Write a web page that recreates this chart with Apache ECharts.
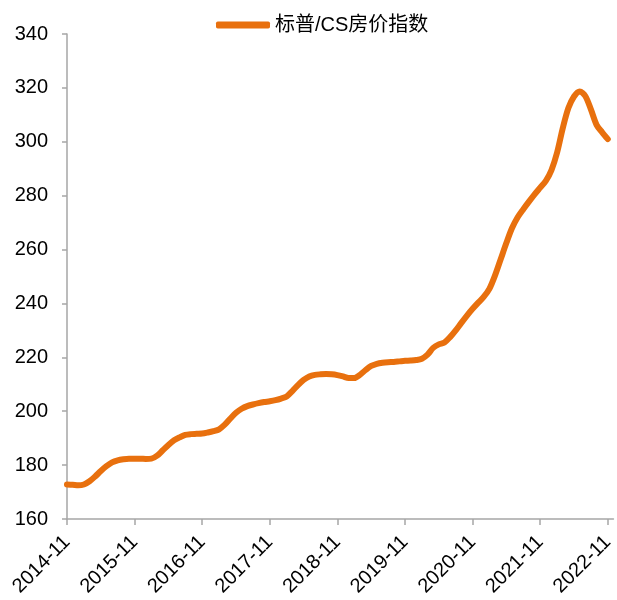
<!DOCTYPE html>
<html>
<head>
<meta charset="utf-8">
<script src="https://cdn.jsdelivr.net/npm/echarts@6/dist/echarts.min.js"></script>
<style>html,body{margin:0;padding:0;background:#fff;}#c{width:617px;height:600px;}</style>
</head>
<body>
<div id="c"></div>
<script>
const seriesName = '标普/CS房价指数';
const yTicks = [160, 180, 200, 220, 240, 260, 280, 300, 320, 340];
const startYear = 2014, startMonth = 11;
const values = [
  172.8, 172.7,
  172.5, 172.8, 174.0, 175.8, 177.8, 179.6, 181.0, 181.8, 182.2, 182.4, 182.4, 182.4,
  182.3, 182.4, 183.5, 185.5, 187.5, 189.2, 190.3, 191.2, 191.5, 191.6, 191.7, 192.1,
  192.6, 193.3, 195.0, 197.3, 199.4, 200.9, 201.9, 202.5, 203.0, 203.4, 203.7, 204.1,
  204.7, 205.5, 207.5, 209.7, 211.6, 212.9, 213.5, 213.7, 213.8, 213.7, 213.4, 212.9,
  212.3, 212.3, 213.5, 215.3, 216.8, 217.6, 218.0, 218.2, 218.3, 218.5, 218.7, 218.8,
  219.0, 219.5, 221.0, 223.5, 224.8, 225.5, 227.5, 230.0, 232.8, 235.5, 238.0, 240.3,
  242.5, 245.5, 250.5, 256.5, 262.5, 268.0, 272.0, 275.0, 277.8, 280.5, 283.0, 285.5,
  289.5, 296.0, 305.0, 312.5, 316.8, 318.7, 317.0, 312.0, 306.3, 303.5, 301.0
];
const categories = [];
for (let i = 0; i < values.length + 1; i++) {
  const m = startMonth - 1 + i;
  const y = startYear + Math.floor(m / 12);
  const mm = (m % 12) + 1;
  categories.push(y + '-' + (mm < 10 ? '0' + mm : mm));
}
function labelOf(c) { const p = c.split('-'); return p[0] + '-' + parseInt(p[1], 10); }

const chart = echarts.init(document.getElementById('c'));
chart.setOption({
  animation: false,
  textStyle: { fontFamily: 'Liberation Sans, Arial, sans-serif' },
  legend: {
    top: 10, left: 211,
    itemWidth: 54, itemHeight: 7, itemGap: 4,
    icon: 'roundRect',
    textStyle: { fontSize: 20, color: '#000', fontFamily: 'Liberation Sans, "Noto Sans CJK SC", sans-serif' },
    data: [seriesName]
  },
  grid: { left: 67, right: 1, top: 34, bottom: 81, containLabel: false },
  xAxis: {
    type: 'category', boundaryGap: false, data: categories,
    axisLine: { lineStyle: { color: '#a6a6a6', width: 1.5 } },
    axisTick: { show: true, length: 6, interval: function (i) { return i % 12 === 0 && i < values.length; }, lineStyle: { color: '#a6a6a6', width: 1.5 } },
    axisLabel: {
      interval: function (i) { return i % 12 === 0 && i < values.length; },
      rotate: 45, fontSize: 20, color: '#000', margin: 20,
      formatter: function (v) { return labelOf(v); }
    }
  },
  yAxis: {
    type: 'value', min: 160, max: 340, interval: 20,
    axisLine: { show: true, lineStyle: { color: '#a6a6a6', width: 1.5 } },
    axisTick: { show: true, length: 5, lineStyle: { color: '#a6a6a6', width: 1.5 } },
    splitLine: { show: false },
    axisLabel: { fontSize: 20, color: '#000', margin: 19,
      formatter: function (v) { return yTicks.indexOf(v) >= 0 ? String(v) : ''; } }
  },
  series: [{
    name: seriesName, type: 'line', data: values,
    smooth: 0.3, showSymbol: false, symbol: 'none',
    lineStyle: { color: '#E8700E', width: 6, cap: 'round', join: 'round' },
    itemStyle: { color: '#E8700E' }
  }]
});
</script>
</body>
</html>
